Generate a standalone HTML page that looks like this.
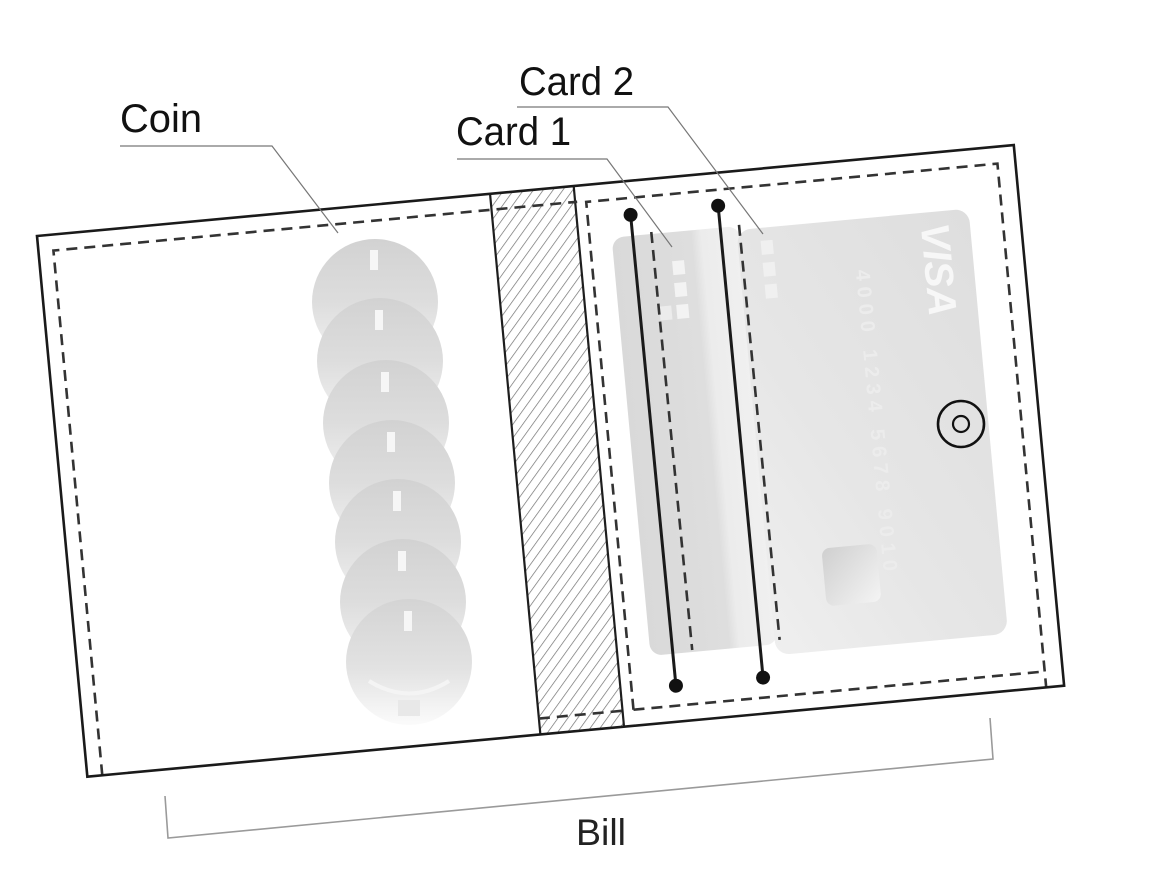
<!DOCTYPE html>
<html>
<head>
<meta charset="utf-8">
<style>
  html,body{margin:0;padding:0;background:#ffffff;}
  svg{display:block;}
</style>
</head>
<body>
<svg width="1165" height="880" viewBox="0 0 1165 880" xmlns="http://www.w3.org/2000/svg">
  <defs>
    <pattern id="hatch" patternUnits="userSpaceOnUse" width="8" height="8" patternTransform="rotate(41)">
      <rect x="0" y="0" width="8" height="8" fill="#ffffff"/>
      <line x1="0" y1="0" x2="0" y2="8" stroke="#707070" stroke-width="1.4"/>
    </pattern>
    <linearGradient id="coin" x1="0" y1="0" x2="0" y2="1">
      <stop offset="0" stop-color="#d2d2d2"/>
      <stop offset="0.5" stop-color="#dddddd"/>
      <stop offset="1" stop-color="#f3f3f3"/>
    </linearGradient>
    <linearGradient id="coinLast" x1="0" y1="0" x2="0" y2="1">
      <stop offset="0" stop-color="#d4d4d4"/>
      <stop offset="0.55" stop-color="#e2e2e2"/>
      <stop offset="1" stop-color="#fbfbfb"/>
    </linearGradient>
    <linearGradient id="c1" x1="0" y1="0" x2="1" y2="0">
      <stop offset="0" stop-color="#d9d9d9"/>
      <stop offset="0.62" stop-color="#dedede"/>
      <stop offset="0.7" stop-color="#ececec"/>
      <stop offset="1" stop-color="#f0f0f0"/>
    </linearGradient>
    <linearGradient id="c2" x1="1" y1="0" x2="0" y2="1">
      <stop offset="0" stop-color="#dedede"/>
      <stop offset="0.6" stop-color="#e6e6e6"/>
      <stop offset="1" stop-color="#efefef"/>
    </linearGradient>
    <linearGradient id="chip" x1="0" y1="0" x2="1" y2="1">
      <stop offset="0" stop-color="#cfcfcf"/>
      <stop offset="1" stop-color="#f4f4f4"/>
    </linearGradient>
  </defs>

  <!-- Wallet (rotated frame) -->
  <g transform="translate(37 236) rotate(-5.32)">
    <rect x="0" y="0" width="981" height="543" fill="#ffffff"/>

    <!-- cards -->
    <rect x="572" y="55" width="128" height="420" rx="12" fill="url(#c1)"/>
    <rect x="697" y="59" width="233" height="427" rx="14" fill="url(#c2)"/>
    <!-- card1 marks -->
    <rect x="630" y="84" width="12" height="14" fill="#f3f3f3"/>
    <rect x="630" y="106" width="12" height="14" fill="#f3f3f3"/>
    <rect x="630" y="128" width="12" height="14" fill="#f3f3f3"/>
    <rect x="613" y="128" width="12" height="14" fill="#ececec"/>
    <!-- card2 marks -->
    <rect x="720" y="72" width="12" height="14" fill="#f0f0f0"/>
    <rect x="720" y="94" width="12" height="14" fill="#f0f0f0"/>
    <rect x="720" y="116" width="12" height="14" fill="#f0f0f0"/>
    <!-- chip -->
    <rect x="752" y="384" width="55" height="58" rx="8" fill="url(#chip)"/>
    <!-- VISA -->
    <text x="0" y="0" transform="translate(881 117) rotate(90)" text-anchor="middle"
          font-family="Liberation Sans, sans-serif" font-size="40" font-weight="bold" font-style="italic"
          fill="#f7f7f7">VISA</text>
    <text x="0" y="0" transform="translate(812 110) rotate(90)"
          font-family="Liberation Sans, sans-serif" font-size="20" font-weight="bold"
          fill="#ececec" letter-spacing="6">4000 1234 5678 9010</text>

    <!-- hatch -->
    <rect x="455" y="0" width="84" height="543" fill="url(#hatch)"/>
    <line x1="455" y1="0" x2="455" y2="543" stroke="#1e1e1e" stroke-width="2.2"/>
    <line x1="539" y1="0" x2="539" y2="543" stroke="#1e1e1e" stroke-width="2.2"/>

    <!-- dashed stitches -->
    <g fill="none" stroke="#333333" stroke-width="2.6" stroke-dasharray="11 7">
      <path d="M15,543 L15,16 L541,16"/>
      <path d="M455,527 L539,527"/>
      <path d="M550,527 L550,17 L963,17 L963,543"/>
      <path d="M550,527 L963,527"/>
      <path d="M612,53 L614,473"/>
      <path d="M700,54 L702,471"/>
    </g>

    <!-- card slot lines -->
    <line x1="593" y1="34" x2="594.5" y2="507" stroke="#1a1a1a" stroke-width="3"/>
    <line x1="681" y1="33" x2="682" y2="507" stroke="#1a1a1a" stroke-width="3"/>
    <circle cx="593" cy="34" r="7" fill="#111"/>
    <circle cx="594.5" cy="507" r="7" fill="#111"/>
    <circle cx="681" cy="33" r="7" fill="#111"/>
    <circle cx="682" cy="507" r="7" fill="#111"/>

    <!-- outer border -->
    <rect x="0" y="0" width="981" height="543" fill="none" stroke="#1a1a1a" stroke-width="2.6"/>
  </g>

  <!-- coins -->
  <g>
    <circle cx="375" cy="302" r="63" fill="url(#coin)"/>
    <rect x="370" y="250" width="8" height="20" fill="#f6f6f6"/>
    <circle cx="380" cy="361" r="63" fill="url(#coin)"/>
    <rect x="375" y="310" width="8" height="20" fill="#f6f6f6"/>
    <circle cx="386" cy="423" r="63" fill="url(#coin)"/>
    <rect x="381" y="372" width="8" height="20" fill="#f6f6f6"/>
    <circle cx="392" cy="483" r="63" fill="url(#coin)"/>
    <rect x="387" y="432" width="8" height="20" fill="#f6f6f6"/>
    <circle cx="398" cy="542" r="63" fill="url(#coin)"/>
    <rect x="393" y="491" width="8" height="20" fill="#f6f6f6"/>
    <circle cx="403" cy="602" r="63" fill="url(#coin)"/>
    <rect x="398" y="551" width="8" height="20" fill="#f6f6f6"/>
    <circle cx="409" cy="662" r="63" fill="url(#coinLast)"/>
    <rect x="404" y="611" width="8" height="20" fill="#f6f6f6"/>
    <path d="M369,681 Q409,706 449,681" stroke="#f4f4f4" stroke-width="4" fill="none"/>
    <rect x="398" y="700" width="22" height="16" fill="#e8e8e8"/>
  </g>

  <!-- target circle -->
  <circle cx="961" cy="424" r="23" fill="none" stroke="#111" stroke-width="2.6"/>
  <circle cx="961" cy="424" r="8" fill="none" stroke="#111" stroke-width="2.2"/>

  <!-- leader lines -->
  <g fill="none" stroke="#777777" stroke-width="1.2">
    <path d="M120,146 L272,146 L338,233"/>
    <path d="M457,159 L607,159 L672,247"/>
    <path d="M517,107 L668,107 L763,234"/>
  </g>

  <!-- labels -->
  <g font-family="Liberation Sans, sans-serif" fill="#111111" font-size="40">
    <text x="120" y="132" textLength="82" lengthAdjust="spacingAndGlyphs">Coin</text>
    <text x="456" y="145" textLength="115" lengthAdjust="spacingAndGlyphs">Card 1</text>
    <text x="519" y="95" textLength="115" lengthAdjust="spacingAndGlyphs">Card 2</text>
  </g>

  <!-- Bill bracket -->
  <path d="M165,796 L168,838 L993,759 L990,718" fill="none" stroke="#9a9a9a" stroke-width="1.6"/>
  <text x="576" y="845" font-family="Liberation Sans, sans-serif" font-size="37" fill="#222222" textLength="50" lengthAdjust="spacingAndGlyphs">Bill</text>
</svg>
</body>
</html>
